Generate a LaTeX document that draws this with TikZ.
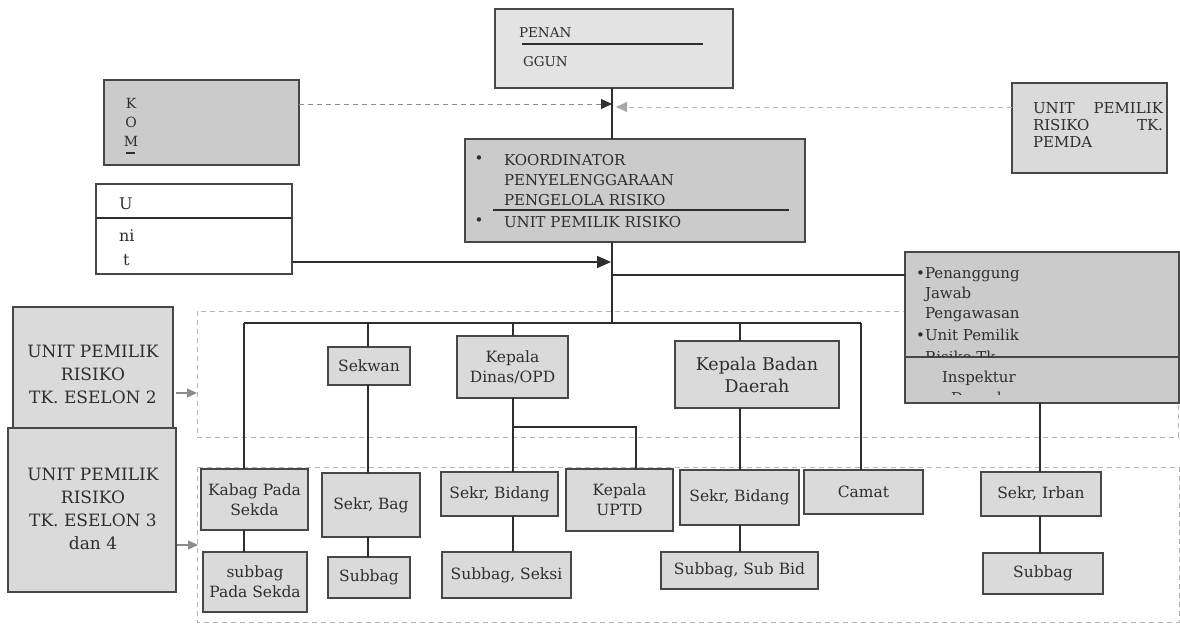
\documentclass[tikz,border=0pt]{standalone}
\usepackage{fontspec}
\setmainfont{DejaVu Serif}
\usetikzlibrary{arrows.meta}
\definecolor{boxfill}{HTML}{DADADA}
\definecolor{darkfill}{HTML}{CBCBCB}
\definecolor{lightfill}{HTML}{E3E3E3}
\definecolor{edge}{HTML}{474747}
\definecolor{ink}{HTML}{2E2E2E}
\definecolor{wire}{HTML}{2E2E2E}
\definecolor{dashc}{HTML}{B4B4B4}
\definecolor{tipdark}{HTML}{303030}
\definecolor{tiplight}{HTML}{A8A8A8}
\definecolor{greyarrow}{HTML}{8C8C8C}
\tikzset{
  box/.style={draw=edge, line width=1.3pt, fill=boxfill, text=ink, inner sep=0pt, outer sep=0pt, align=center},
  darkbox/.style={box, fill=darkfill},
  lightbox/.style={box, fill=lightfill},
  whitebox/.style={box, fill=white},
  txt/.style={text=ink, inner sep=0pt, outer sep=0pt},
  fa/.style={font=\fontsize{13.5}{18}\selectfont},
  fk/.style={font=\fontsize{15}{19}\selectfont},
  fb/.style={font=\fontsize{15.5}{20}\selectfont},
  fp/.style={font=\fontsize{15}{20}\selectfont},
  fc/.style={font=\fontsize{17}{23}\selectfont},
  fd/.style={font=\fontsize{17.5}{22}\selectfont},
  conn/.style={draw=wire, line width=1.8pt},
  thinrule/.style={draw=wire, line width=1.2pt},
  region/.style={draw=dashc, line width=0.9pt, dash pattern=on 5pt off 4pt},
  unitarrow/.style={conn, -{Triangle[length=14pt,width=12pt]}},
  komarrow/.style={draw=greyarrow, line width=1pt, dash pattern=on 5pt off 4pt, -{Triangle[length=11pt,width=10pt,color=tipdark]}},
  pemdaarrow/.style={draw=dashc, line width=1pt, dash pattern=on 5pt off 4pt, -{Triangle[length=11pt,width=10pt,color=tiplight]}},
  esarrow/.style={draw=greyarrow, line width=1.3pt, -{Triangle[length=10pt,width=9pt,color=greyarrow]}},
}
\begin{document}
\begin{tikzpicture}[x=1pt,y=-1pt]
\path[use as bounding box] (0,0) rectangle (1180,632);

% dashed regions
\draw[region] (197,311) rectangle (1178,437);
\draw[region] (197,467) rectangle (1179,622);

% top boxes
\node[lightbox, minimum width=238pt, minimum height=79pt] (pen) at (614,48.5) {};
\node[txt, fa, anchor=base west] (pen1) at (519,37) {PENAN};
\draw[thinrule] (522,44) -- (703,44);
\node[txt, fa, anchor=base west] (pen2) at (523,66) {GGUN};

\node[darkbox, minimum width=195pt, minimum height=85pt] (kom) at (201.5,122.5) {};
\node[txt, font=\fontsize{14}{15}\selectfont] (komk) at (131,103) {K};
\node[txt, font=\fontsize{14}{15}\selectfont] (komo) at (131,122) {O};
\node[txt, font=\fontsize{14}{15}\selectfont] (komm) at (131,141) {M};
\draw[draw=ink, line width=1.2pt] (126,153) -- (135,153);

\node[box, minimum width=155pt, minimum height=90pt] (pemda) at (1089.5,128) {};
\node[txt, fk, anchor=base west] (pm1) at (1033,113) {\makebox[130pt][s]{UNIT\hfill PEMILIK}};
\node[txt, fk, anchor=base west] (pm2) at (1033,130) {\makebox[130pt][s]{RISIKO\hfill TK.}};
\node[txt, fk, anchor=base west] (pm3) at (1033,147) {PEMDA};

\node[darkbox, minimum width=340pt, minimum height=103pt] (koor) at (635,190.5) {};
\node[txt, fk] (kb1) at (479,160) {•};
\node[txt, fk, anchor=base west] (k1) at (504,165) {KOORDINATOR};
\node[txt, fk, anchor=base west] (k2) at (504,185) {PENYELENGGARAAN};
\node[txt, fk, anchor=base west] (k3) at (504,205) {PENGELOLA RISIKO};
\draw[thinrule] (493,210) -- (789,210);
\node[txt, fk] (kb2) at (479,222) {•};
\node[txt, fk, anchor=base west] (k4) at (504,227) {UNIT PEMILIK RISIKO};

\node[whitebox, minimum width=196pt, minimum height=90pt] (unit) at (194,229) {};
\draw[thinrule] (96,218) -- (292,218);
\node[txt, font=\fontsize{16}{18}\selectfont, anchor=base west] (u1) at (119,209) {U};
\node[txt, font=\fontsize{16}{18}\selectfont, anchor=base west] (u2) at (119,241) {ni};
\node[txt, font=\fontsize{16}{18}\selectfont, anchor=base west] (u3) at (123,265) {t};

% Penanggung jawab box
\node[darkbox, minimum width=274pt, minimum height=151pt] (pj) at (1042,327.5) {};
\coordinate (pjdiv) at (905,357);
\draw[draw=edge, line width=1.3pt] (pjdiv) -- (pjdiv -| pj.east);
\begin{scope}
\clip (906,253) rectangle (1178,356);
\node[txt, fp, anchor=base west] (pj1) at (925,278) {\llap{•}Penanggung};
\node[txt, fp, anchor=base west] (pj2) at (925,298) {Jawab};
\node[txt, fp, anchor=base west] (pj3) at (925,318) {Pengawasan};
\node[txt, fp, anchor=base west] (pj4) at (925,340) {\llap{•}Unit Pemilik};
\node[txt, fp, anchor=base west] (pj5) at (925,362) {Risiko Tk.};
\end{scope}
\begin{scope}
\clip (906,358) rectangle (1178,394);
\node[txt, fp, anchor=base west] (pj6) at (942,382) {Inspektur};
\node[txt, fp, anchor=base west] (pj7) at (951,403) {Daerah};
\end{scope}

% eselon boxes
\node[box, minimum width=160pt, minimum height=121pt] (es2) at (93,367.5) {};
\node[txt, fc, align=center] (es2t) at (93,374) {UNIT PEMILIK\\RISIKO\\TK. ESELON 2};
\node[box, minimum width=168pt, minimum height=164pt] (es3) at (92,510) {};
\node[txt, fc, align=center] (es3t) at (93,509) {UNIT PEMILIK\\RISIKO\\TK. ESELON 3\\dan 4};

% level 2
\node[box, fb, minimum width=82pt, minimum height=38pt] (sekwan) at (369,366) {Sekwan};
\node[box, fb, minimum width=111pt, minimum height=62pt] (kadis) at (512.5,367) {Kepala\\Dinas/OPD};
\node[box, fd, minimum width=164pt, minimum height=67pt] (kaban) at (757,374.5) {Kepala Badan\\Daerah};

% level 3
\node[box, fb, minimum width=107pt, minimum height=61pt] (kabag) at (254.5,499.5) {Kabag Pada\\Sekda};
\node[box, fb, minimum width=104pt, minimum height=60pt] (subpada) at (255,582) {subbag\\Pada Sekda};
\node[box, fb, minimum width=98pt, minimum height=64pt] (sekrbag) at (371,505) {Sekr, Bag};
\node[box, fb, minimum width=82pt, minimum height=41pt] (subbag1) at (369,577.5) {Subbag};
\node[box, fb, minimum width=117pt, minimum height=44pt] (sekrbid1) at (499.5,494) {Sekr, Bidang};
\node[box, fb, minimum width=129pt, minimum height=46pt] (subseksi) at (506.5,575) {Subbag, Seksi};
\node[box, fb, minimum width=107pt, minimum height=62pt] (uptd) at (619.5,500) {Kepala\\UPTD};
\node[box, fb, minimum width=119pt, minimum height=55pt] (sekrbid2) at (739.5,497.5) {Sekr, Bidang};
\node[box, fb, minimum width=157pt, minimum height=37pt] (subsubbid) at (739.5,570.5) {Subbag, Sub Bid};
\node[box, fb, minimum width=119pt, minimum height=44pt] (camat) at (863.5,492) {Camat};
\node[box, fb, minimum width=120pt, minimum height=44pt] (irban) at (1041,494) {Sekr, Irban};
\node[box, fb, minimum width=120pt, minimum height=41pt] (subbag2) at (1043,573.5) {Subbag};

% connector coordinates
\coordinate (cx) at (612,0);
\coordinate (ix) at (1040,0);
\coordinate (busL) at (244,323);
\coordinate (busR) at (861,323);
\coordinate (pjb) at (612,275);
\coordinate (kj) at (513,427);
\coordinate (kjr) at (636,427);
\coordinate (kbx) at (740,323);
\coordinate (sx) at (368,323);
\coordinate (ua1) at (292,262);
\coordinate (ua2) at (611,262);
\coordinate (ka1) at (299,104);
\coordinate (ka2) at (612,104);
\coordinate (pa1) at (1012,107);
\coordinate (pa2) at (616,107);
\coordinate (ea1) at (176,393);
\coordinate (ea2) at (197,393);
\coordinate (eb1) at (177,545);
\coordinate (eb2) at (198,545);

% connectors
\draw[conn] (pen.south -| cx) -- (koor.north -| cx);
\draw[conn] (koor.south -| cx) -- (busL -| cx);
\draw[conn] (pjb) -- (pjb -| pj.west);
\draw[conn] (busL) -- (busR);
\draw[conn] (busL) -- (busL |- kabag.north);
\draw[conn] (kabag.south -| busL) -- (subpada.north -| busL);
\draw[conn] (sx) -- (sx |- sekwan.north);
\draw[conn] (sekwan.south -| sx) -- (sekrbag.north -| sx);
\draw[conn] (sekrbag.south -| sx) -- (subbag1.north -| sx);
\draw[conn] (kj |- busL) -- (kadis.north -| kj);
\draw[conn] (kadis.south -| kj) -- (sekrbid1.north -| kj);
\draw[conn] (kj) -- (kjr) -- (kjr |- uptd.north);
\draw[conn] (sekrbid1.south -| kj) -- (subseksi.north -| kj);
\draw[conn] (kbx) -- (kbx |- kaban.north);
\draw[conn] (kaban.south -| kbx) -- (sekrbid2.north -| kbx);
\draw[conn] (sekrbid2.south -| kbx) -- (subsubbid.north -| kbx);
\draw[conn] (busR) -- (busR |- camat.north);
\draw[conn] (pj.south -| ix) -- (irban.north -| ix);
\draw[conn] (irban.south -| ix) -- (subbag2.north -| ix);

% arrows
\draw[unitarrow] (ua1) -- (ua2);
\draw[komarrow] (ka1) -- (ka2);
\draw[pemdaarrow] (pa1) -- (pa2);
\draw[esarrow] (ea1) -- (ea2);
\draw[esarrow] (eb1) -- (eb2);
\end{tikzpicture}
\end{document}
